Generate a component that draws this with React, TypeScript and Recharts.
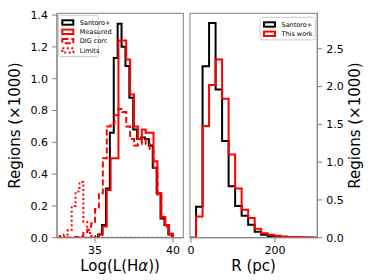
import React from "react";
import { LineChart, Line, XAxis, YAxis } from "recharts";

// left panel: Log(L(Hα)) histograms, counts in thousands of regions
const lumEdges = [
  32.5, 32.75, 33, 33.25, 33.5, 33.75, 34, 34.25, 34.5, 34.75, 35, 35.25, 35.5, 35.75, 36, 36.25,
  36.5, 36.75, 37, 37.25, 37.5, 37.75, 38, 38.25, 38.5, 38.75, 39, 39.25, 39.5, 39.75, 40,
];
const measuredLum = [
  0, 0, 0, 0, 0, 0, 0, 0, 0, 0, 0, 0.02, 0.07, 0.3, 0.5, 0.5, 1.24, 1.24, 1.12, 0.9, 0.7, 0.62,
  0.68, 0.66, 0.66, 0.48, 0.28, 0.13, 0.08, 0.025,
];
const digCorrLum = [
  0, 0, 0, 0, 0, 0.005, 0.01, 0.03, 0.05, 0.09, 0.18, 0.28, 0.5, 0.7, 0.72, 0.77, 0.81, 0.79, 0.7,
  0.62, 0.58, 0.59, 0.62, 0.59, 0.55, 0.44, 0.27, 0.12, 0.07, 0.02,
];
const limitsLum = [
  0, 0.01, 0.02, 0.05, 0.2, 0.29, 0.35, 0.1, 0.03, 0.01, 0, 0, 0, 0, 0, 0, 0, 0, 0, 0, 0, 0, 0, 0,
  0, 0, 0, 0, 0, 0,
];
const santoroLumEdges = [
  34.95, 35.2, 35.45, 35.7, 35.95, 36.2, 36.45, 36.7, 36.95, 37.2, 37.45, 37.7, 37.95, 38.2, 38.45,
  38.7, 38.95, 39.2, 39.45, 39.7, 39.95,
];
const santoroLum = [
  0, 0.02, 0.08, 0.31, 0.66, 1.13, 1.345, 1.2, 1.08, 0.88, 0.68, 0.62, 0.63, 0.62, 0.58, 0.44, 0.28,
  0.12, 0.08, 0.02,
];

// right panel: region size R (pc)
const sizeEdges = [
  -3.5, 12, 27.5, 43, 58.5, 74, 89.5, 105, 120.5, 136, 151.5, 167, 182.5, 198, 213.5, 229, 244.5,
  260, 275.5, 291, 306.5,
];
const santoroSize = [
  0, 0.41, 2.27, 2.84, 1.96, 1.28, 0.68, 0.42, 0.29, 0.17, 0.08, 0.04, 0.02, 0.01, 0.005, 0, 0, 0,
  0, 0,
];
const thisWorkSize = [
  0, 0.28, 1.48, 2.02, 2.36, 1.84, 1.1, 0.65, 0.37, 0.26, 0.12, 0.06, 0.04, 0.025, 0.015, 0.01,
  0.008, 0.005, 0.003, 0,
];

const lumTicks = [35, 40];
const lumCountTicks = [0, 0.2, 0.4, 0.6, 0.8, 1.0, 1.2, 1.4];
const sizeTicks = [0, 200];
const sizeCountTicks = [0, 0.5, 1.0, 1.5, 2.0, 2.5];

const leftLegend = ["Santoro+", "Measured", "DIG corr.", "Limits"];
const rightLegend = ["Santoro+", "This work"];

const FONT = "DejaVu Sans";
const SPINE = "#808080";
const RED = "#ff0000";
const tickStyle = { fill: "#000", fontSize: 11, fontFamily: FONT };

// histogram outline as stepAfter points (matplotlib histtype='step')
function steps(edges: number[], counts: number[]) {
  const pts = [{ x: edges[0], y: 0 }];
  counts.forEach((c, i) => pts.push({ x: edges[i], y: c }));
  pts.push({ x: edges[edges.length - 1], y: counts[counts.length - 1] });
  pts.push({ x: edges[edges.length - 1], y: 0 });
  return pts;
}

const lumSeries = [
  { name: leftLegend[0], data: steps(santoroLumEdges, santoroLum), color: "#000", dash: undefined },
  { name: leftLegend[1], data: steps(lumEdges, measuredLum), color: RED, dash: undefined },
  { name: leftLegend[2], data: steps(lumEdges, digCorrLum), color: RED, dash: "6 3" },
  { name: leftLegend[3], data: steps(lumEdges, limitsLum), color: RED, dash: "2 2.5" },
];
const sizeSeries = [
  { name: rightLegend[0], data: steps(sizeEdges, santoroSize), color: "#000", dash: undefined },
  { name: rightLegend[1], data: steps(sizeEdges, thisWorkSize), color: RED, dash: undefined },
];

const fmt = (v: number) => v.toFixed(1);

function LumPanel() {
  return (
    <LineChart width={190} height={280} margin={{ top: 13.3, right: 6.7, bottom: 0, left: 0 }}>
      <XAxis
        type="number"
        dataKey="x"
        domain={[32.56, 40.66]}
        ticks={lumTicks}
        allowDataOverflow
        height={42.3}
        tickSize={5}
        tickMargin={3}
        stroke={SPINE}
        tick={tickStyle}
      />
      <YAxis
        type="number"
        domain={[0, 1.411]}
        ticks={lumCountTicks}
        tickFormatter={fmt}
        allowDataOverflow
        width={57}
        tickSize={5}
        tickMargin={4}
        stroke={SPINE}
        tick={tickStyle}
      />
      {lumSeries.map((s) => (
        <Line
          key={s.name}
          data={s.data}
          dataKey="y"
          type="stepAfter"
          stroke={s.color}
          strokeWidth={2}
          strokeDasharray={s.dash}
          dot={false}
          isAnimationActive={false}
        />
      ))}
    </LineChart>
  );
}

function SizePanel() {
  return (
    <LineChart width={191} height={280} margin={{ top: 13.3, right: 0, bottom: 0, left: 7 }}>
      <XAxis
        type="number"
        dataKey="x"
        domain={[-2.4, 300.5]}
        ticks={sizeTicks}
        allowDataOverflow
        height={42.3}
        tickSize={5}
        tickMargin={3}
        stroke={SPINE}
        tick={tickStyle}
      />
      <YAxis
        orientation="right"
        type="number"
        domain={[0, 2.97]}
        ticks={sizeCountTicks}
        tickFormatter={fmt}
        allowDataOverflow
        width={56.7}
        tickSize={5}
        tickMargin={4}
        stroke={SPINE}
        tick={tickStyle}
      />
      {sizeSeries.map((s) => (
        <Line
          key={s.name}
          data={s.data}
          dataKey="y"
          type="stepAfter"
          stroke={s.color}
          strokeWidth={2}
          dot={false}
          isAnimationActive={false}
        />
      ))}
    </LineChart>
  );
}

type Entry = { name: string; color: string; dash?: string };

function LegendBox({ x, y, w, entries }: { x: number; y: number; w: number; entries: Entry[] }) {
  const rowH = 9.3;
  return (
    <g>
      <rect x={x} y={y} width={w} height={entries.length * rowH + 4} rx={2} fill="#fff" fillOpacity={0.8} stroke="#cccccc" strokeWidth={1} />
      {entries.map((e, i) => {
        const cy = y + 7.2 + i * rowH;
        return (
          <g key={e.name}>
            <rect x={x + 4} y={cy - 2.2} width={11} height={4.4} fill="none" stroke={e.color} strokeWidth={2} strokeDasharray={e.dash} />
            <text x={x + 21.5} y={cy + 2.3} fontSize={6.5} fontFamily={FONT} fill="#000">
              {e.name}
            </text>
          </g>
        );
      })}
    </g>
  );
}

export default function App() {
  return (
    <div style={{ position: "absolute", left: 0, top: 0, width: 374, height: 280, background: "#fff" }}>
      <div style={{ position: "absolute", left: 0, top: 0 }}>
        <LumPanel />
      </div>
      <div style={{ position: "absolute", left: 183, top: 0 }}>
        <SizePanel />
      </div>
      <svg width={374} height={280} style={{ position: "absolute", left: 0, top: 0, pointerEvents: "none" }}>
        {/* axes frames */}
        <rect x={57} y={13.3} width={126.3} height={224.4} fill="none" stroke={SPINE} strokeWidth={1} />
        <rect x={190} y={13.3} width={127.3} height={224.4} fill="none" stroke={SPINE} strokeWidth={1} />
        <text transform="translate(19.5,125.5) rotate(-90)" textAnchor="middle" fontSize={15} fontFamily={FONT} fill="#000">
          Regions (×1000)
        </text>
        <text transform="translate(359.5,125.5) rotate(-90)" textAnchor="middle" fontSize={15} fontFamily={FONT} fill="#000">
          Regions (×1000)
        </text>
        <text x={120} y={270.5} textAnchor="middle" fontSize={15} fontFamily={FONT} fill="#000">
          Log(L(H<tspan fontStyle="italic">α</tspan>))
        </text>
        <text x={253.6} y={270.5} textAnchor="middle" fontSize={15} fontFamily={FONT} fill="#000">
          R (pc)
        </text>
        <LegendBox x={58.3} y={15.3} w={40} entries={lumSeries} />
        <LegendBox x={260} y={17.3} w={55.3} entries={sizeSeries} />
      </svg>
    </div>
  );
}
